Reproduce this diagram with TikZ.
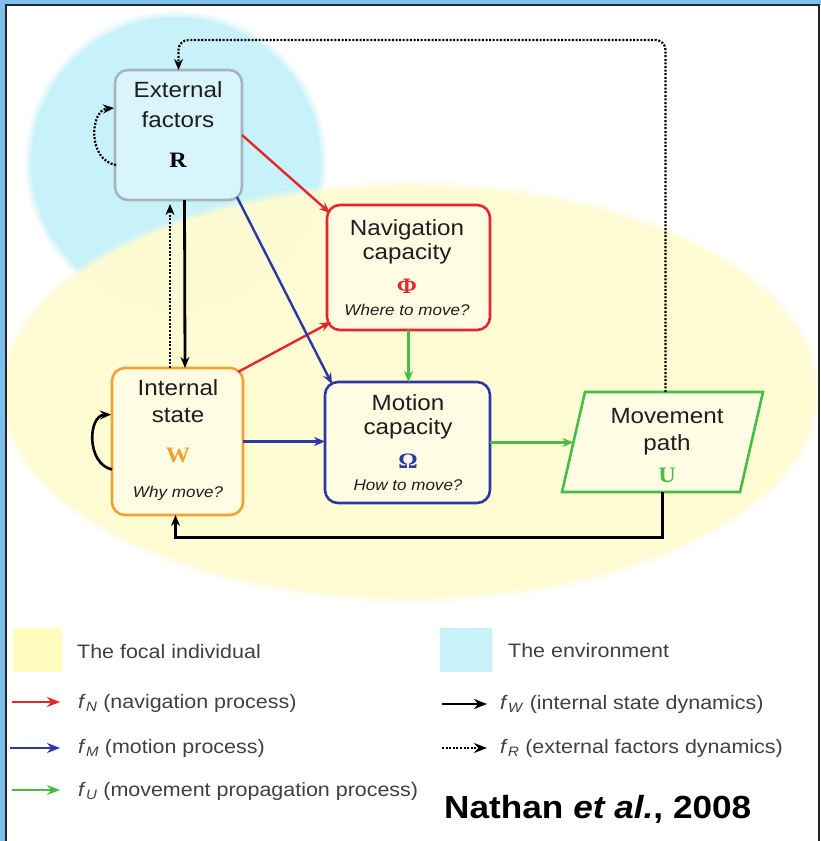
\documentclass[tikz,border=0pt]{standalone}
\usepackage{fontspec}
\setmainfont{Liberation Sans}[FakeStretch=1.1]
\newfontfamily\symfont{Liberation Serif}[FakeStretch=1.1]
\usetikzlibrary{arrows.meta,calc}
\definecolor{cred}{RGB}{228,38,45}
\definecolor{cblue}{RGB}{45,55,165}
\definecolor{cgreen}{RGB}{70,190,70}
\definecolor{corange}{RGB}{245,160,50}
\definecolor{cgray}{RGB}{165,180,188}
\definecolor{ccyan}{RGB}{200,242,250}
\definecolor{cboxcyan}{RGB}{215,245,250}
\definecolor{cyel}{RGB}{255,251,210}
\definecolor{cboxyel}{RGB}{255,252,228}
\definecolor{cframe}{RGB}{125,192,236}
\definecolor{cdark}{RGB}{30,30,30}
\begin{document}
\begin{tikzpicture}[x=1pt,y=-1pt,
  box/.style={rounded corners=13pt, line width=2.6pt, inner sep=0pt, outer sep=0pt},
  lbl/.style={anchor=base, inner sep=0pt, font=\fontsize{22}{24}\selectfont, text=cdark},
  ques/.style={anchor=base, inner sep=0pt, font=\fontsize{15.5}{17}\selectfont\itshape, text=cdark},
  sym/.style={anchor=base, inner sep=0pt, font=\fontsize{22}{24}\selectfont\symfont\bfseries},
  leg/.style={anchor=base west, inner sep=0pt, font=\fontsize{19.5}{21}\selectfont, text=black!75},
  arw/.style={-{Stealth[length=11pt,width=9pt]}},
  larw/.style={-{Stealth[length=13pt,width=10pt]}, line width=2.4pt},
  dotline/.style={dash pattern=on 2pt off 1.6pt},
]
\useasboundingbox (0,0) rectangle (821,841);
\fill[white] (0,0) rectangle (821,841);

% ---------- background regions ----------
\begin{scope}
  \clip (7,6) rectangle (818,841);
  \fill[ccyan, opacity=0.25] (176,162) circle (151pt);
  \fill[ccyan, opacity=0.45] (176,162) circle (148pt);
  \fill[ccyan] (176,162) circle (145pt);
  \fill[cyel, opacity=0.25] (410,392) ellipse [x radius=411pt, y radius=211pt];
  \fill[cyel, opacity=0.45] (410,392) ellipse [x radius=408pt, y radius=208pt];
  \fill[cyel, opacity=0.9] (410,392) ellipse [x radius=405pt, y radius=205pt];
\end{scope}

% ---------- frame ----------
\fill[cframe] (0,0) rectangle (6,841);
\fill[cframe] (0,0) rectangle (821,5);
\draw[line width=2pt, black!85] (6,841) -- (6,5) -- (819,5) -- (819,841);

% ---------- boxes ----------
\node[box, draw=cgray, fill=cboxcyan, minimum width=127pt, minimum height=130pt] (ext) at (178.5,135) {};
\node[box, draw=cred, fill=cboxyel, minimum width=163pt, minimum height=125pt] (nav) at (408.5,267.5) {};
\node[box, draw=corange, fill=cboxyel, minimum width=131pt, minimum height=147pt] (int) at (177.5,441.5) {};
\node[box, draw=cblue, fill=cboxyel, minimum width=165pt, minimum height=121pt] (mot) at (407.5,442.5) {};
\node[inner sep=0pt, outer sep=0pt, minimum width=178pt, minimum height=100pt] (path) at (662.5,442) {};
\draw[cgreen, fill=cboxyel, line width=2.6pt]
  ($(path.south west)+(-11.5,0)$) -- ($(path.north west)+(11.5,0)$) --
  ($(path.north east)+(11.5,0)$) -- ($(path.south east)+(-11.5,0)$) -- cycle;

% ---------- texts ----------
\node[lbl] (extA) at (178,97) {External};
\node[lbl] (extB) at (178,127) {factors};
\node[sym, text=black] (extS) at (178,167) {R};

\node[lbl] (navA) at (407,235) {Navigation};
\node[lbl] (navB) at (407,259) {capacity};
\node[sym, text=cred] (navS) at (407,293) {Φ};
\node[ques] (navQ) at (407,315) {Where to move?};

\node[lbl] (intA) at (178,395) {Internal};
\node[lbl] (intB) at (178,422) {state};
\node[sym, text=corange] (intS) at (178,462) {W};
\node[ques] (intQ) at (178,497) {Why move?};

\node[lbl] (motA) at (408,410) {Motion};
\node[lbl] (motB) at (408,434) {capacity};
\node[sym, text=cblue] (motS) at (408,468) {Ω};
\node[ques] (motQ) at (408,490) {How to move?};

\node[lbl] (pathA) at (667,423) {Movement};
\node[lbl] (pathB) at (667,450) {path};
\node[sym, text=cgreen] (pathS) at (667,482) {U};

% ---------- connectors ----------
\draw[arw, cred, line width=2.4pt] (ext.east) -- ($(nav.north west)+(3,8)$);
\draw[arw, cred, line width=2.4pt] ($(int.north east)+(-5,4)$) -- ($(nav.south west)+(4,-8)$);
\draw[arw, cblue, line width=2.4pt] ($(ext.south east)+(-5,-3)$) -- ($(mot.north west)+(7,2)$);
\draw[arw, cblue, line width=2.4pt] (int.east) -- (int.east -| mot.west);
\draw[arw, cgreen, line width=2.4pt] (nav.south) -- (nav.south |- mot.north);
\draw[arw, cgreen, line width=2.4pt] (mot.east) -- (mot.east -| path.west);

\draw[arw, black, line width=2.8pt] ($(ext.south)+(6,0)$) -- ($(int.north)+(7.5,0)$);
\draw[arw, black, line width=2.2pt, dotline] ($(int.north)+(-7.5,0)$) -- ($(ext.south)+(-8.5,4)$);

\draw[arw, black, line width=3pt] (path.south) -- ++(0,45) -| ($(int.south)+(-2,0)$);
\draw[arw, black, line width=2.2pt, dotline, rounded corners=10pt]
  ($(path.north)+(3,0)$) |- ($(ext.north)+(0,-30)$) -- (ext.north);

\draw[arw, black, line width=2.2pt, dotline]
  ($(ext.west)+(1,30)$) .. controls ($(ext.west)+(-28,25)$) and ($(ext.west)+(-25,-25)$) .. ($(ext.west)+(-1,-27)$);
\draw[arw, black, line width=2.6pt]
  ($(int.west)+(0,28)$) .. controls ($(int.west)+(-26,22)$) and ($(int.west)+(-24,-26)$) .. ($(int.west)+(-1,-27)$);

% ---------- legend ----------
\fill[cyel!90!yellow] (13,628) rectangle (62,672);
\fill[ccyan] (440,628) rectangle (492,672);
\node[leg] (lt1) at (77,658) {The focal individual};
\node[leg] (lt2) at (508,657) {The environment};

\coordinate (r1) at (12,702); \coordinate (r2) at (60,702);
\coordinate (b1) at (10,748); \coordinate (b2) at (60,748);
\coordinate (g1) at (12,790); \coordinate (g2) at (60,790);
\coordinate (k1) at (442,704); \coordinate (k2) at (487,704);
\coordinate (d1) at (442,748); \coordinate (d2) at (487,748);
\draw[larw, cred] (r1) -- (r2);
\draw[larw, cblue] (b1) -- (b2);
\draw[larw, cgreen] (g1) -- (g2);
\draw[larw, black] (k1) -- (k2);
\draw[larw, black, line width=1.8pt, dotline] (d1) -- (d2);

\node[leg] (ln) at (78,708) {\textit{f}\textsubscript{\textit{N}} (navigation process)};
\node[leg] (lm) at (78,753) {\textit{f}\textsubscript{\textit{M}} (motion process)};
\node[leg] (lu) at (78,796) {\textit{f}\textsubscript{\textit{U}} (movement propagation process)};
\node[leg] (lw) at (500,709) {\textit{f}\textsubscript{\textit{W}} (internal state dynamics)};
\node[leg] (lr) at (500,753) {\textit{f}\textsubscript{\textit{R}} (external factors dynamics)};

\node[anchor=base west, inner sep=0pt, font=\fontsize{32}{34}\selectfont\bfseries] (cite) at (444,818) {Nathan \textit{et al.}, 2008};
\end{tikzpicture}
\end{document}
